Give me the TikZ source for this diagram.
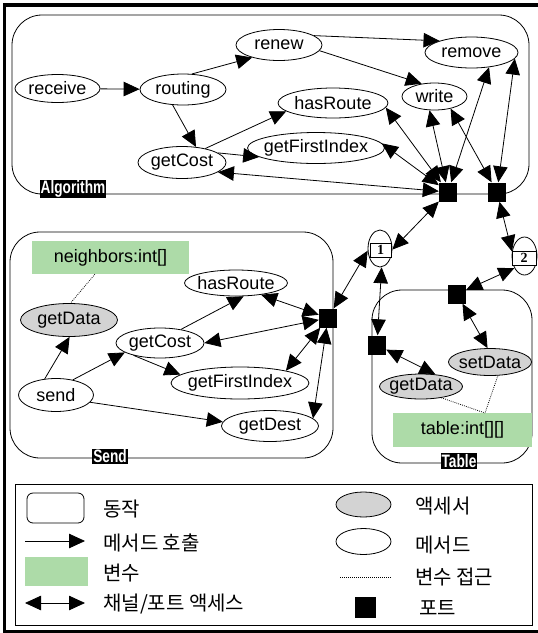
\documentclass[tikz,border=0pt]{standalone}
\usepackage{fontspec}
\usepackage{graphicx}
\setmainfont{Liberation Sans}
\newfontfamily\krfont{Noto Sans CJK KR}
\newfontfamily\numfont{Liberation Serif}
\usetikzlibrary{arrows.meta,shapes.geometric}

\definecolor{vargreen}{RGB}{173,219,168}
\definecolor{accgray}{RGB}{211,211,211}

\newcommand\lblfont{\fontsize{18}{20}\selectfont}
\newcommand\ntxt[1]{\makebox[0pt]{#1}}
\newcommand\cltxt[1]{\scalebox{0.76}[1]{\fontsize{18}{20}\selectfont\bfseries #1}}

\tikzset{
  meth/.style={ellipse, draw, line width=0.8pt, inner sep=0pt, font=\lblfont},
  acc/.style={meth, fill=accgray},
  sz/.style 2 args={minimum width=#1pt, minimum height=#2pt},
  var/.style={rectangle, fill=vargreen, inner sep=0pt, font=\lblfont},
  port/.style={rectangle, fill=black, inner sep=0pt, minimum width=18pt, minimum height=19pt},
  chan/.style={ellipse, draw, line width=0.8pt, inner sep=0pt},
  chanbox/.style={rectangle, draw, fill=white, line width=0.8pt, inner sep=0pt,
    font=\numfont\bfseries\fontsize{14}{14}\selectfont},
  cluster/.style={rectangle, draw, line width=0.8pt, rounded corners=30pt, inner sep=0pt},
  clabel/.style={fill=black, text=white, inner sep=1pt},
  call/.style={-{Triangle[length=16pt,width=14.5pt]}, line width=0.8pt},
  access/.style={{Triangle[length=16pt,width=14.5pt]}-{Triangle[length=16pt,width=14.5pt]}, line width=0.8pt},
  varline/.style={line width=0.8pt, dash pattern=on 0.8pt off 1.2pt},
  kr/.style={font=\krfont\fontsize{20}{22}\selectfont, inner sep=0pt, anchor=west},
}

\begin{document}
\begin{tikzpicture}[x=1pt,y=-1pt]
\useasboundingbox (0,0) rectangle (538,633);
\clip (0,0) rectangle (538,633);

% outer frame
\draw[line width=3.2pt] (4.6,5) rectangle (560,631.4);

% ---------- clusters ----------
\node[cluster, sz={517}{179}] (alg) at (270.5,104.5) {};
\node[cluster, sz={323}{226}] (sendc) at (171.5,345) {};
\node[cluster, sz={160}{173}] (tablec) at (452,376.5) {};

% ---------- Algorithm ----------
\node[meth, sz={85}{28}] (receive) at (57.5,88.5) {\ntxt{receive}};
\node[meth, sz={86}{31}] (routing) at (183,89.5) {\ntxt{routing}};
\node[meth, sz={86}{31}] (renew) at (279,45) {\ntxt{renew}};
\node[meth, sz={93}{31}] (remove) at (471.5,52.5) {\ntxt{remove}};
\node[meth, sz={65}{27}] (write) at (434.5,96.5) {\ntxt{write}};
\node[meth, sz={110}{30}] (route1) at (333,103) {\ntxt{hasRoute}};
\node[meth, sz={137}{31}] (first1) at (316,148) {\ntxt{getFirstIndex}};
\node[meth, sz={88}{32}] (cost1) at (182,162.5) {\ntxt{getCost}};

% ---------- Send ----------
\node[var, sz={157}{33}] (nb) at (110.5,257.5) {\ntxt{neighbors:int[]}};
\node[meth, sz={103}{26}] (route2) at (236,283) {\ntxt{hasRoute}};
\node[acc, sz={97}{33}] (data1) at (69,320) {\ntxt{getData}};
\node[meth, sz={88}{30}] (cost2) at (160,343) {\ntxt{getCost}};
\node[meth, sz={75}{33}] (send) at (56,395) {\ntxt{send}};
\node[meth, sz={138}{32}] (first2) at (240,383) {\ntxt{getFirstIndex}};
\node[meth, sz={97}{31}] (dest) at (270,426) {\ntxt{getDest}};

% ---------- Table ----------
\node[acc, sz={83}{27}] (setd) at (490,362) {\ntxt{setData}};
\node[acc, sz={83}{25}] (getd) at (421,386.5) {\ntxt{getData}};
\node[var, sz={139}{34}] (tv) at (462.5,430) {\ntxt{table:int[][]}};
\coordinate (tvj) at (485,413);

% ---------- channels ----------
\node[chan, sz={24}{37}] (ch1) at (380,248.5) {};
\node[chanbox, sz={21}{14}] (ch1box) at (380.5,250) {1};
\node[chan, sz={25}{38}] (ch2) at (524.5,256) {};
\node[chanbox, sz={24}{14}] (ch2box) at (524,258) {2};

% ---------- method calls ----------
\draw[call] (receive) -- (routing);
\draw[call] (routing.60) -- (renew.-155);
\draw[call] (routing.-124) -- (cost1.48);
\draw[call] (renew.15) -- (remove.160);
\draw[call] (renew.-8) -- (write.135);
\draw[call] (cost1.31) -- (route1.-170);
\draw[call] (cost1.15) -- (first1.-171);

\draw[call] (send.125) -- (data1.-88);
\draw[call] (send.42) -- (cost2.-165);
\draw[call] (send.-12) -- (dest.175);
\draw[call] (cost2.33) -- (route2.-60);
\draw[call] (cost2.-155) -- (first2.172);

% ---------- ports ----------
\node[port] (P1) at (448,192) {};
\node[port] (P2) at (497,192) {};
\node[port] (PS) at (328,318) {};
\node[port] (PT1) at (457,294) {};
\node[port] (PT2) at (377,345) {};

% ---------- channel / port access ----------
\draw[access] (P1) -- (cost1.-15);
\draw[access] (P1) -- (first1.4);
\draw[access] (P1) -- (route1.-5);
\draw[access] (P1) -- (write.-110);
\draw[access] (P1) -- (remove.-40);
\draw[access] (P2) -- (write.-37);
\draw[access] (P2) -- (remove.-8);
\draw[access] (P1) -- (ch1.-5);
\draw[access] (P2) -- (ch2.160);

\draw[access] (PS) -- (route2.-25);
\draw[access] (PS) -- (cost2.0);
\draw[access] (PS) -- (first2.15);
\draw[access] (PS) -- (dest.10);
\draw[access] (PS) -- (ch1.190);

\draw[access] (ch1.-85) -- (PT2);
\draw[access] (PT1) -- (ch2.-130);
\draw[access] (PT1) -- (setd.100);
\draw[access] (PT2) -- (getd.40);

% ---------- variable access ----------
\draw[varline] (nb.-133) -- (data1.85);
\draw[varline] (getd.-29) -- (tvj);
\draw[varline] (setd.-60) -- (tvj);

% ---------- cluster labels ----------
\node[clabel] (algLbl) at (73,189) {\cltxt{Algorithm}};
\node[clabel] (sendLbl) at (110,456.5) {\cltxt{Send}};
\node[clabel] (tableLbl) at (459,461) {\cltxt{Table}};

% ---------- legend ----------
\node[rectangle, draw, line width=0.8pt, sz={516.5}{141}, inner sep=0pt] (legend) at (273.75,554.5) {};

\node[draw, line width=0.8pt, rounded corners=6pt, sz={57}{30}, inner sep=0pt] (lgAct) at (55.5,508) {};
\node[kr] (lgActT) at (103,509) {동작};

\coordinate (lgCallA) at (25,541);
\coordinate (lgCallB) at (85,541);
\draw[call] (lgCallA) -- (lgCallB);
\node[kr] (lgCallT) at (103,543) {메서드 호출};

\node[var, sz={63}{29}] (lgVar) at (56.5,571.5) {};
\node[kr] (lgVarT) at (103,573) {변수};

\coordinate (lgAccA) at (25,603);
\coordinate (lgAccB) at (85,603);
\draw[access] (lgAccA) -- (lgAccB);
\node[kr] (lgAccT) at (103,604) {채널/포트 액세스};

\node[acc, sz={55}{25}] (lgAcc) at (363.5,504.5) {};
\node[kr] (lgAccsT) at (415,506) {액세서};

\node[meth, sz={55}{26}] (lgMeth) at (363.5,541.5) {};
\node[kr] (lgMethT) at (415,545) {메서드};

\coordinate (lgDotA) at (340,577);
\coordinate (lgDotB) at (391,577);
\draw[varline] (lgDotA) -- (lgDotB);
\node[kr] (lgDotT) at (415,577) {변수 접근};

\node[port, sz={21}{21}] (lgPort) at (365.5,607) {};
\node[kr] (lgPortT) at (419,608) {포트};
\end{tikzpicture}
\end{document}
